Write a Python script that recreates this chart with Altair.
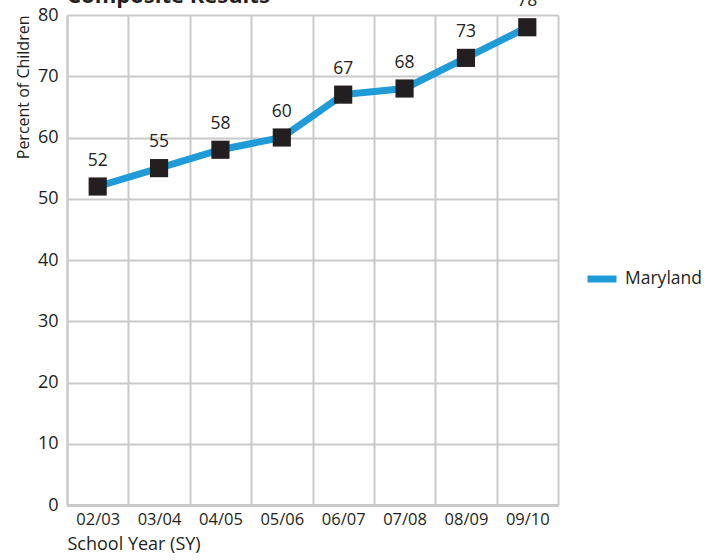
import altair as alt
import pandas as pd

# School years and composite readiness percentages for Maryland
years = ["02/03", "03/04", "04/05", "05/06", "06/07", "07/08", "08/09", "09/10"]
percent = [52, 55, 58, 60, 67, 68, 73, 78]
series_name = "Maryland"
chart_title = "Composite Results"

df = pd.DataFrame({"year": years, "pct": percent, "series": [series_name] * len(years)})
title_df = pd.DataFrame({"t": [chart_title]})

FONT = "Open Sans"
INK = "#231f20"
BLUE = "#1f9bd7"
GRID = "#c9c9c9"

x_enc = alt.X(
    "year:N",
    sort=years,
    scale=alt.Scale(paddingInner=0, paddingOuter=0),
    axis=alt.Axis(
        title="School Year (SY)",
        titleAnchor="start",
        labelAngle=0,
        tickBand="extent",
        grid=True,
        ticks=False,
        labelPadding=6,
        labelFontSize=16.5,
        titleFontSize=18,
        titlePadding=8,
        domainWidth=3,
    ),
)
y_enc = alt.Y(
    "pct:Q",
    scale=alt.Scale(domain=[0, 80], nice=False),
    axis=alt.Axis(
        title="Percent of Children",
        titleAnchor="end",
        values=list(range(0, 81, 10)),
        ticks=False,
        labelPadding=9,
        labelFontSize=18,
        titleFontSize=16,
        titlePadding=6,
        domainWidth=2,
    ),
)

line = alt.Chart(df).mark_line(strokeWidth=7, strokeCap="round").encode(
    x=x_enc,
    y=y_enc,
    color=alt.Color(
        "series:N",
        scale=alt.Scale(range=[BLUE]),
        legend=alt.Legend(
            title=None,
            orient="none",
            legendX=517,
            legendY=246,
            symbolType="stroke",
            symbolStrokeWidth=7,
            symbolSize=841,
            labelFontSize=17.5,
            labelColor=INK,
            labelOffset=5,
            labelFont=FONT,
        ),
    ),
)

points = alt.Chart(df).mark_square(size=330, color=INK, opacity=1).encode(
    x=alt.X("year:N", sort=years), y="pct:Q"
)

labels = alt.Chart(df).mark_text(
    dy=-26, fontSize=17.5, color=INK, font=FONT
).encode(x=alt.X("year:N", sort=years), y="pct:Q", text="pct:Q")

# Heading sits above the plot area and runs off the top of the canvas
heading = alt.Chart(title_df).mark_text(
    align="left", baseline="alphabetic", fontSize=22, fontWeight="bold",
    font=FONT, color=INK,
).encode(x=alt.value(0), y=alt.value(-12), text="t:N")

chart = (
    alt.layer(line, points, labels, heading)
    .properties(
        width=491,
        height=490,
        autosize=alt.AutoSizeParams(type="none"),
        padding={"left": 67, "top": 15, "right": 150, "bottom": 55},
    )
    .configure_view(stroke=None)
    .configure_axis(
        gridColor=GRID,
        gridWidth=2,
        domainColor=GRID,
        labelColor=INK,
        titleColor=INK,
        labelFont=FONT,
        titleFont=FONT,
        titleFontWeight="normal",
    )
)

chart.save("out.html", embed_options={"renderer": "svg", "actions": False})
